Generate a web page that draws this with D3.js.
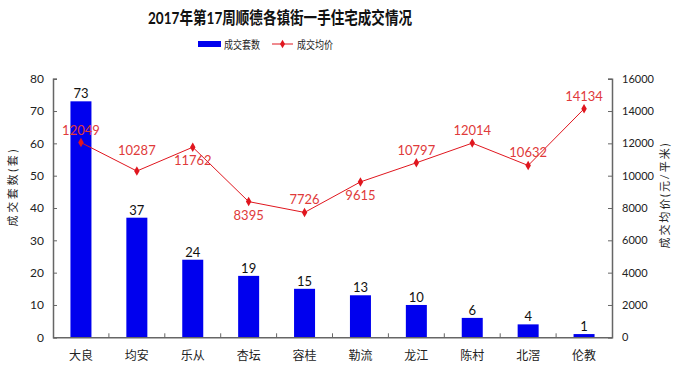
<!DOCTYPE html>
<html><head><meta charset="utf-8">
<script src="https://cdn.jsdelivr.net/npm/d3@7/dist/d3.min.js"></script>
<style>body{margin:0;background:#fff}svg{display:block}text{font-family:Lato,"Noto Sans CJK SC",sans-serif}</style>
</head><body><svg id="c" width="676" height="369"></svg>
<script>
const categories = ["大良","均安","乐从","杏坛","容桂","勒流","龙江","陈村","北滘","伦教"];
const units = [73,37,24,19,15,13,10,6,4,1];
const prices = [12049,10287,11762,8395,7726,9615,10797,12014,10632,14134];
const labelSide = ["above","above","below","below","above","below","above","above","above","above"];
const leftTicks = [0,10,20,30,40,50,60,70,80];
const rightTicks = [0,2000,4000,6000,8000,10000,12000,14000,16000];

const svg = d3.select("#c");
const L = 53, R = 612, T = 78.7, B = 337.3;
const x = d3.scaleBand().domain(categories).range([L,R]);
const yL = d3.scaleLinear().domain([0,80]).range([B,T]);
const yR = d3.scaleLinear().domain([0,16000]).range([B,T]);
const axisColor = "#666";
const blue = "#0000ee", red = "#e0161e";

// title
svg.append("text").attr("x",280).attr("y",24).attr("text-anchor","middle")
  .attr("font-size",17).attr("font-weight","bold").attr("fill","#111")
  .attr("textLength",264).attr("lengthAdjust","spacingAndGlyphs")
  .text("2017年第17周顺德各镇街一手住宅成交情况");

// legend
svg.append("rect").attr("x",198).attr("y",41).attr("width",23).attr("height",6).attr("fill",blue);
svg.append("text").attr("x",224).attr("y",48.5).attr("font-size",11).attr("fill","#222")
  .attr("textLength",36).attr("lengthAdjust","spacingAndGlyphs").text("成交套数");
svg.append("line").attr("x1",272).attr("x2",293).attr("y1",44).attr("y2",44).attr("stroke",red).attr("stroke-width",1);
svg.append("path").attr("d",d3.symbol(d3.symbolDiamond,22)()).attr("transform","translate(282.5,44)").attr("fill",red);
svg.append("text").attr("x",297).attr("y",48.5).attr("font-size",11).attr("fill","#222")
  .attr("textLength",36).attr("lengthAdjust","spacingAndGlyphs").text("成交均价");

// bars
const bw = 21;
svg.selectAll("rect.bar").data(units).join("rect").attr("class","bar")
  .attr("x",(d,i)=>x(categories[i])+x.bandwidth()/2-bw/2)
  .attr("y",d=>yL(d)).attr("width",bw).attr("height",d=>B-yL(d)).attr("fill",blue);
svg.selectAll("text.bv").data(units).join("text").attr("class","bv")
  .attr("x",(d,i)=>x(categories[i])+x.bandwidth()/2).attr("y",d=>yL(d)-3)
  .attr("text-anchor","middle").attr("font-size",13).attr("fill","#111").text(d=>d);

// axes
const gL = svg.append("g").attr("transform",`translate(${L},0)`)
  .call(d3.axisLeft(yL).tickValues(leftTicks).tickSize(-4).tickPadding(9).tickFormat(d3.format("d")));
const gR = svg.append("g").attr("transform",`translate(${R},0)`)
  .call(d3.axisRight(yR).tickValues(rightTicks).tickSize(-4).tickPadding(10).tickFormat(d3.format("d")));
const gX = svg.append("g").attr("transform",`translate(0,${B})`)
  .call(d3.axisBottom(x).tickSize(0).tickPadding(14));
[gL,gR,gX].forEach(g=>{
  g.select(".domain").attr("stroke",axisColor).attr("stroke-width",1.5);
  g.selectAll(".tick line").attr("stroke",axisColor);
  g.selectAll("text").attr("font-family",'Lato,"Noto Sans CJK SC",sans-serif').attr("fill","#222");
});
gL.selectAll("text").attr("font-size",12);
gR.selectAll("text").attr("font-size",11);
gX.selectAll("text").attr("font-size",12).attr("dy","0.75em");
// category boundary ticks
gX.selectAll("line.bt").data(categories.slice(1)).join("line").attr("class","bt")
  .attr("x1",d=>x(d)).attr("x2",d=>x(d)).attr("y1",0).attr("y2",-4).attr("stroke",axisColor);

// axis titles
svg.append("text").attr("transform","translate(17,188) rotate(-90)").attr("text-anchor","middle")
  .attr("font-size",11).attr("fill","#222").attr("textLength",77).attr("lengthAdjust","spacing").text("成交套数(套)");
svg.append("text").attr("transform","translate(669,196) rotate(-90)").attr("text-anchor","middle")
  .attr("font-size",11).attr("fill","#222").attr("textLength",105).attr("lengthAdjust","spacing").text("成交均价(元/平米)");

// line
const cx = i => x(categories[i])+x.bandwidth()/2;
svg.append("path").datum(prices).attr("fill","none").attr("stroke",red).attr("stroke-width",1)
  .attr("d",d3.line().x((d,i)=>cx(i)).y(d=>yR(d)));
svg.selectAll("path.pt").data(prices).join("path").attr("class","pt")
  .attr("d",d3.symbol(d3.symbolDiamond,26)()).attr("fill",red)
  .attr("transform",(d,i)=>`translate(${cx(i)},${yR(d)})`);
svg.selectAll("text.pv").data(prices).join("text").attr("class","pv")
  .attr("x",(d,i)=>cx(i)).attr("y",(d,i)=>yR(d)+(labelSide[i]==="above"?(i===1?-16:-8):18))
  .attr("text-anchor","middle").attr("font-size",13).attr("fill","#e03a3a").text(d=>d);
</script></body></html>
